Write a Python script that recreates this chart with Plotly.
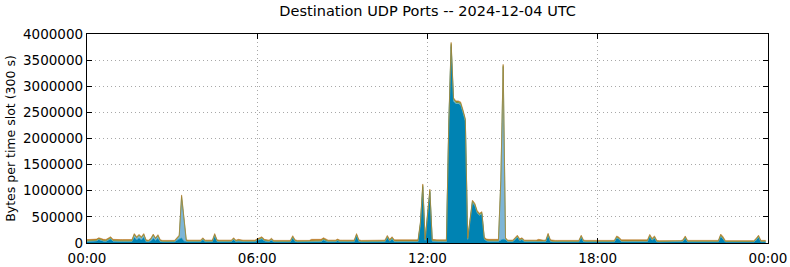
import pandas as pd
import plotly.graph_objects as go

# Values in thousands of bytes per 5-minute slot (288 slots, 2024-12-04 UTC)
SCALE = 1000

teal_k = [
    27, 28, 30, 30, 37, 62, 44, 32, 30, 54, 76, 32,
    27, 27, 27, 27, 27, 27, 27, 27, 105, 58, 92, 58,
    107, 26, 23, 38, 87, 50, 88, 26, 20, 20, 20, 20,
    20, 20, 50, 78, 95, 35, 26, 23, 23, 23, 23, 23,
    23, 60, 23, 23, 23, 23, 126, 28, 23, 23, 23, 23,
    23, 23, 60, 23, 34, 23, 23, 23, 23, 31, 23, 23,
    48, 64, 78, 38, 23, 23, 54, 20, 20, 20, 20, 26,
    20, 20, 20, 96, 28, 20, 20, 20, 20, 20, 20, 29,
    26, 26, 26, 26, 57, 32, 23, 23, 23, 23, 41, 23,
    23, 23, 23, 23, 23, 23, 134, 28, 20, 20, 20, 20,
    20, 20, 20, 20, 20, 20, 23, 101, 32, 78, 24, 24,
    24, 24, 24, 24, 24, 24, 24, 24, 24, 355, 1065, 46,
    555, 965, 34, 26, 24, 24, 24, 24, 24, 2238, 3760, 2710,
    2663, 2663, 2643, 2493, 2323, 66, 459, 772, 712, 574, 526, 556,
    76, 37, 29, 29, 29, 29, 29, 55, 70, 62, 25, 25,
    25, 64, 108, 46, 64, 25, 25, 25, 25, 25, 25, 36,
    25, 25, 25, 140, 28, 20, 20, 20, 20, 20, 20, 20,
    20, 28, 20, 20, 20, 106, 25, 20, 20, 20, 20, 20,
    20, 20, 20, 20, 20, 20, 20, 20, 91, 72, 24, 24,
    24, 24, 24, 24, 24, 24, 24, 24, 24, 24, 118, 52,
    93, 20, 17, 17, 17, 17, 17, 17, 17, 17, 17, 17,
    28, 93, 20, 20, 20, 20, 20, 20, 20, 19, 18, 18,
    18, 20, 20, 20, 125, 78, 17, 17, 17, 17, 17, 17,
    17, 17, 17, 17, 17, 17, 17, 54, 108, 20, 20, 20,
]

lightblue_k = [
    4, 4, 4, 4, 4, 4, 4, 4, 4, 4, 10, 4,
    4, 4, 4, 4, 4, 4, 4, 4, 40, 30, 40, 30,
    40, 4, 4, 20, 50, 20, 40, 4, 4, 4, 4, 4,
    4, 4, 20, 40, 780, 380, 4, 4, 4, 4, 4, 4,
    4, 10, 4, 4, 4, 4, 20, 4, 4, 4, 4, 4,
    4, 4, 10, 4, 4, 4, 4, 4, 4, 4, 4, 4,
    4, 6, 10, 4, 4, 4, 6, 4, 4, 4, 4, 4,
    4, 4, 4, 10, 4, 4, 4, 4, 4, 4, 4, 4,
    4, 4, 4, 4, 6, 4, 4, 4, 4, 4, 4, 4,
    4, 4, 4, 4, 4, 4, 12, 4, 4, 4, 4, 4,
    4, 4, 4, 4, 4, 4, 4, 10, 4, 8, 4, 4,
    4, 4, 4, 4, 4, 4, 4, 4, 4, 10, 20, 4,
    10, 20, 4, 4, 4, 4, 4, 4, 4, 20, 30, 20,
    10, 10, 10, 10, 10, 4, 6, 8, 8, 6, 6, 6,
    4, 4, 4, 4, 4, 4, 4, 1100, 3300, 10, 4, 4,
    4, 6, 8, 4, 6, 4, 4, 4, 4, 4, 4, 4,
    4, 4, 4, 10, 4, 4, 4, 4, 4, 4, 4, 4,
    4, 4, 4, 4, 4, 10, 4, 4, 4, 4, 4, 4,
    4, 4, 4, 4, 4, 4, 4, 4, 8, 6, 4, 4,
    4, 4, 4, 4, 4, 4, 4, 4, 4, 4, 10, 6,
    8, 4, 4, 4, 4, 4, 4, 4, 4, 4, 4, 4,
    4, 8, 4, 4, 4, 4, 4, 4, 4, 4, 4, 4,
    4, 4, 4, 4, 10, 8, 4, 4, 4, 4, 4, 4,
    4, 4, 4, 4, 4, 4, 4, 6, 8, 4, 4, 4,
]

green_k = [
    12, 12, 12, 12, 12, 14, 12, 12, 12, 12, 14, 12,
    12, 12, 12, 12, 12, 12, 12, 12, 15, 14, 15, 14,
    15, 12, 12, 14, 15, 12, 14, 12, 10, 10, 10, 10,
    10, 10, 12, 14, 20, 15, 12, 10, 10, 10, 10, 10,
    10, 12, 10, 10, 10, 10, 14, 10, 10, 10, 10, 10,
    10, 10, 12, 10, 10, 10, 10, 10, 10, 10, 10, 10,
    10, 12, 12, 10, 10, 10, 12, 10, 10, 10, 10, 10,
    10, 10, 10, 14, 10, 10, 10, 10, 10, 10, 10, 12,
    12, 12, 12, 12, 12, 12, 10, 10, 10, 10, 12, 10,
    10, 10, 10, 10, 10, 10, 14, 10, 10, 10, 10, 10,
    10, 10, 10, 10, 10, 10, 10, 14, 12, 14, 12, 12,
    12, 12, 12, 12, 12, 12, 12, 12, 12, 15, 20, 12,
    15, 20, 12, 12, 14, 14, 14, 14, 14, 20, 25, 25,
    25, 25, 25, 25, 25, 12, 15, 20, 20, 20, 18, 18,
    12, 12, 12, 12, 12, 12, 12, 20, 25, 10, 10, 10,
    10, 12, 14, 12, 12, 10, 10, 10, 10, 10, 10, 12,
    10, 10, 10, 15, 10, 10, 10, 10, 10, 10, 10, 10,
    10, 10, 10, 10, 10, 14, 10, 10, 10, 10, 10, 10,
    10, 10, 10, 10, 10, 10, 10, 10, 14, 12, 12, 12,
    12, 12, 12, 12, 12, 12, 12, 12, 12, 12, 15, 12,
    14, 10, 10, 10, 10, 10, 10, 10, 10, 10, 10, 10,
    10, 14, 10, 10, 10, 10, 10, 10, 10, 10, 10, 10,
    10, 10, 10, 10, 15, 14, 10, 10, 10, 10, 10, 10,
    10, 10, 10, 10, 10, 10, 10, 12, 14, 10, 10, 10,
]

orange_k = [
    22, 24, 24, 22, 22, 20, 20, 22, 22, 20, 20, 22,
    22, 22, 22, 22, 22, 22, 22, 22, 20, 18, 18, 18,
    18, 18, 16, 18, 18, 18, 18, 18, 16, 16, 16, 16,
    16, 16, 18, 18, 25, 20, 18, 18, 18, 18, 18, 18,
    18, 18, 18, 18, 18, 18, 20, 18, 18, 18, 18, 18,
    18, 18, 18, 18, 22, 18, 18, 18, 18, 20, 18, 18,
    18, 18, 20, 18, 18, 18, 18, 16, 16, 16, 16, 20,
    16, 16, 16, 20, 18, 16, 16, 16, 16, 16, 16, 25,
    28, 28, 28, 28, 25, 22, 18, 18, 18, 18, 18, 18,
    18, 18, 18, 18, 18, 18, 20, 18, 16, 16, 16, 16,
    16, 16, 16, 16, 16, 16, 18, 20, 22, 20, 20, 20,
    20, 20, 20, 20, 20, 20, 20, 20, 20, 20, 25, 18,
    20, 25, 20, 18, 18, 18, 18, 18, 18, 22, 25, 25,
    22, 22, 22, 22, 22, 18, 20, 20, 20, 20, 20, 20,
    18, 22, 25, 25, 25, 25, 25, 25, 25, 18, 16, 16,
    16, 18, 20, 18, 18, 16, 16, 16, 16, 16, 16, 18,
    16, 16, 16, 20, 18, 16, 16, 16, 16, 16, 16, 16,
    16, 18, 16, 16, 16, 20, 16, 16, 16, 16, 16, 16,
    16, 16, 16, 16, 16, 16, 16, 16, 22, 20, 20, 20,
    20, 20, 20, 20, 20, 20, 20, 20, 20, 20, 22, 20,
    20, 16, 14, 14, 14, 14, 14, 14, 14, 14, 14, 14,
    18, 20, 16, 16, 16, 16, 16, 16, 16, 22, 28, 28,
    28, 16, 16, 16, 20, 20, 14, 14, 14, 14, 14, 14,
    14, 14, 14, 14, 14, 14, 14, 18, 20, 16, 16, 16,
]

series_names = ["port group 1", "port group 2", "port group 3", "port group 4"]
series_values = [teal_k, lightblue_k, green_k, orange_k]
series_colors = ["#0083b3", "#7db5d7", "#5f9845", "#c8781e"]
series_lines = ["#0083b3", "#7db5d7", "#6f9a40", "#b07a28"]

y_tick_values = [0, 500000, 1000000, 1500000, 2000000, 2500000, 3000000, 3500000, 4000000]
x_tick_labels = ["00:00", "06:00", "12:00", "18:00", "00:00"]

times = pd.date_range("2024-12-04 00:00", periods=len(teal_k), freq="5min")
x_ticks = pd.date_range("2024-12-04 00:00", periods=5, freq="6h")

FONT = "DejaVu Sans"
GRID = dict(showgrid=True, gridcolor="#a8a8a8", griddash="1px,3px", gridwidth=1)

fig = go.Figure()
for name, vals, col, lc in zip(series_names, series_values, series_colors, series_lines):
    fig.add_trace(go.Scatter(
        x=times, y=[v * SCALE for v in vals], name=name,
        mode="lines", stackgroup="one",
        line=dict(color=lc, width=0.6),
        fillcolor=col, showlegend=False,
    ))

fig.update_layout(
    width=790, height=267,
    margin=dict(l=87, r=22, t=34, b=24),
    paper_bgcolor="white", plot_bgcolor="white",
    font=dict(family=FONT, size=13.5, color="black"),
    title=dict(text="Destination UDP Ports -- 2024-12-04 UTC",
               x=0.5413, xanchor="center", y=1 - 11 / 267, yanchor="middle",
               font=dict(family=FONT, size=14.5, color="black")),
)
fig.update_xaxes(
    range=[x_ticks[0], x_ticks[-1]],
    tickvals=x_ticks, ticktext=x_tick_labels,
    ticks="inside", ticklen=5, tickcolor="black", mirror="ticks",
    showline=True, linecolor="black", linewidth=1.3,
    tickfont=dict(family=FONT, size=13.5), zeroline=False, automargin=False,
    ticklabelstandoff=3,
    **GRID,
)
fig.update_yaxes(
    range=[0, 4000000],
    tickvals=y_tick_values, ticktext=[str(v) for v in y_tick_values],
    ticks="inside", ticklen=5, tickcolor="black", mirror="ticks",
    showline=True, linecolor="black", linewidth=1.3,
    tickfont=dict(family=FONT, size=13.5), zeroline=False, automargin=False,
    title=dict(text="Bytes per time slot (300 s)", font=dict(family=FONT, size=12.5), standoff=4),
    **GRID,
)

fig.write_html("out.html")
